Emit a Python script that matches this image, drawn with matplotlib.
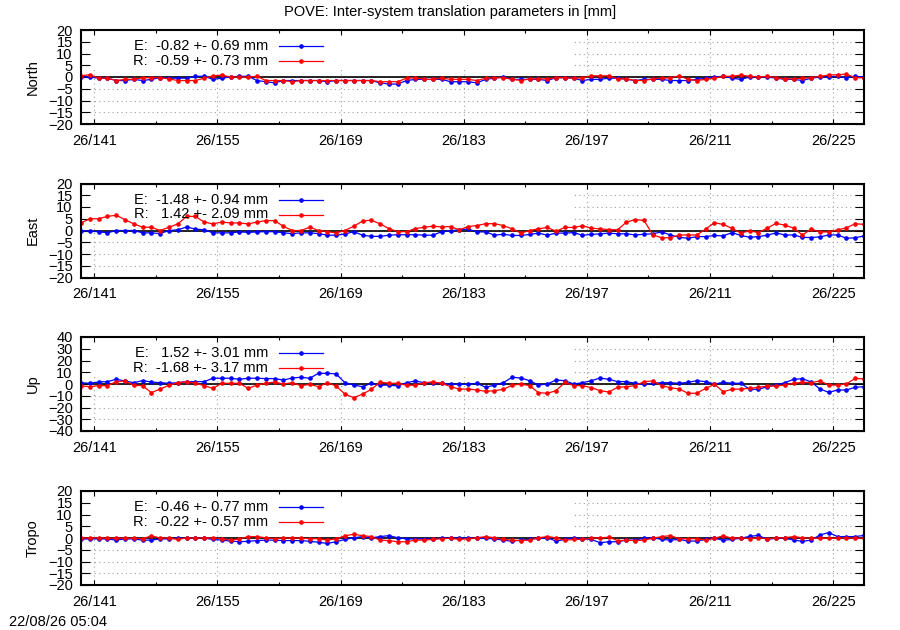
import matplotlib
matplotlib.use('Agg')
import matplotlib.pyplot as plt
from matplotlib.patches import Rectangle
from matplotlib.ticker import MultipleLocator, FixedLocator
import numpy as np

plt.rcParams['font.family'] = ['Liberation Sans', 'DejaVu Sans']

# day of year (noon epochs), 26/139.5 .. 26/228.5
days = np.arange(139.5, 229.0, 1.0)
xticks = [141, 155, 169, 183, 197, 211, 225]
xlabels = ['26/%d' % d for d in xticks]
components = ['North', 'East', 'Up', 'Tropo']
ylims = [20, 20, 40, 20]
ysteps = [5, 5, 10, 5]

north_e = [0, 0, -0.5, -0.5, -1.5, -1.5, -1, -1.5, -1, -0.3,
           -0.5, -0.5, -0.5, 0.3, 0.3, -1, -0.5, 0, 0.3, 0.3,
           -1.5, -2, -2.5, -1.5, -1.5, -1.5, -1.5, -1.5, -2, -1.5,
           -1.5, -1.5, -1.5, -1.5, -2.5, -3, -3, -1.5, -1, -1,
           -1, -1,
           -2, -2, -2, -2.5, -1, -0.5, 0, -1, -1, -1,
           -1, -1.5, -0.3, -0.3, -0.5, -1.5, -1, -1, -0.5, -0.5,
           -1, -1.5, -1, -1, -1, -1.5, -1.5, -1.5, -1, -0.5,
           0, 0.3, -0.5, -1, 0, 0, 0, -0.5, -1, -1,
           -1.5, -0.5, 0, 0, 0.3, -0.3, 0.3, 0]
north_r = [0.5, 1, -0.5, -0.5, -1.5, -1, -1, -0.3, -0.3, -0.3,
           -0.8, -1.5, -1.5, -1.5, -0.5, 0.5, 0.8, 0, 0, 0,
           0.3, -1.5, -1.5, -1.5, -2, -1.5, -1.5, -1.5, -1.5, -1.5,
           -1.5, -1.5, -1.5, -1.5, -2, -2, -2, -0.5, -0.3, -1,
           -1, -0.5,
           -1, -1, -1, -1.5, -0.5, -0.3, -0.3, -1, -1.5, -0.8,
           -0.8, -0.8, -0.3, -0.3, -0.5, -0.3, 0.5, 0.5, 0.5, -0.8,
           -0.8, -1.5, -1.5, -0.8, -0.5, -0.3, 0.5, -1, -1.5, -1,
           -0.5, 0.3, 0.3, 0.8, 0.3, 0, 0.3, -0.3, -0.8, -0.8,
           -0.5, -0.3, 0.3, 0.8, 1, 1.2, -0.3, -0.3]

east_e = [0, -0.3, -0.5, -1, 0, 0, 0, -1, -1, -1.3,
          0, 0.3, 1.5, 0.6, 0.3, -1, -1, -1, -0.6, -0.8,
          -0.6, -0.5, -0.5, -1, -1.3, -1, -1, -1.3, -2, -2,
          -1.5, -0.5, -2, -2.5, -2.5, -2, -1.8, -1.8, -1.8, -2,
          -2, -0.5,
          -0.1, 0.3, 0.6, -0.6, -0.6, -2, -1.6, -2.1, -2.1, -1.7,
          -1.1, -2, -1.1, -1.1, -0.9, -2, -1.7, -1.4, -1.1, -1.4,
          -1.4, -1.9, -1.6, -1.4, -0.6, -1.9, -2.9, -3.3, -2.6, -2.6,
          -2.1, -2.3, -0.9, -2.1, -2.9, -2.6, -2, -1, -1.9, -1.9,
          -2.9, -3, -2.7, -1.9, -1.9, -3.3, -3.1, -2.3]
east_r = [3.2, 5, 5, 6, 6.5, 4.6, 2.8, 1.4, 1.4, 0,
          1.4, 2.8, 6, 6, 3.6, 2.8, 3.6, 3.2, 3.2, 2.8,
          3.6, 4.2, 4.2, 1.8, 0, 0, 1.4, 0, -0.5, -1,
          0, 1.8, 4, 4.4, 2.8, 0.8, -0.5, -0.5, 0.8, 1.4,
          1.8, 1.5,
          1.7, 0.3, 1.7, 2.1, 2.9, 2.9, 2.1, 0.7, -1.1, 0,
          0.7, 1.3, -0.3, 1.3, 1.3, 2, 1, 0.7, 0.4, 0.3,
          3.6, 4.6, 4.3, -1.9, -3.1, -3.1, -1.9, -1.9, -1.9, 0.6,
          3.3, 2.6, 0.9, -1.1, -0.1, -0.9, 1, 3, 2.3, 1,
          -1.9, 0.6, -0.6, -0.6, 0.3, 1.1, 2.9, 2.6]

up_e = [1.1, 0.6, 1.7, 2, 4, 2.6, 1.1, 2.9, 1.7, 1.1,
        0.6, 1.1, 2, 2, 2, 4.9, 4.9, 4.9, 4, 4.9,
        4.9, 4.6, 4.6, 3.4, 5.1, 5.7, 4.9, 9.1, 9.1, 8.6,
        1.1, -0.9, -2.3, 0.6, -1.1, -0.9, -1.7, 1.1, 2.6, 1.1,
        1.1, 0.6,
        -0.3, -0.3, -0.3, 0.6, -2.8, -0.9, 1.1, 5.7, 5.1, 2.8,
        -0.9, 0, 3.4, 2.8, 0, 1.1, 2.8, 5.1, 4, 2,
        2, 0.6, -0.3, 0.6, 1.1, 1.1, 0.6, 1.4, 2.8, 2,
        0, 1.4, 0.6, 0.6, -4.5, -4.5, -2.3, -0.9, 1.1, 4,
        4.5, 1.7, -4.3, -7.1, -5.1, -5.1, -2.8, -2.3]
up_r = [-1.7, -2.3, -1.4, -1.4, 2, 2.6, -1.1, -1.4, -7.4, -4.3,
        -1.1, 1.1, 2, 0.6, -1.4, -3.7, 0.6, 0.6, 0.6, -3.7,
        -0.9, 0.6, 1.7, 0, 1.1, -1.4, -0.3, -2.3, 1.1, -1.7,
        -8.6, -11.7, -8.6, -4.6, 1.7, 0.6, 0.6, -1.1, -1.1, 1.1,
        1.7, 0.6,
        -2.3, -4.3, -4.3, -5.1, -6.2, -5.7, -4.5, -1.1, 0, -1.4,
        -7.4, -7.9, -5.7, 1.4, -1.4, -1.4, -3.1, -5.7, -6.8, -2.8,
        -2.3, -1.4, 2, 2.6, -1.4, -3.1, -4.3, -7.9, -7.9, -3.7,
        -0.3, -6.5, -4.5, -4.3, -3.7, -2.8, -1.7, -1.7, -0.9, 0.6,
        1.4, 1.1, 2.6, -0.9, -0.9, 0, 4.8, 4.3]

tropo_e = [-0.4, -0.4, -0.4, -0.4, -0.9, -0.4, -0.4, -0.9, -0.9, -0.4,
           -0.4, -0.1, -0.1, -0.1, -0.1, -0.6, -0.9, -1.3, -1.6, -1.4,
           -1.1, -0.9, -0.9, -1.1, -1.1, -1.1, -1.4, -1.8, -2.3, -1.6,
           -0.6, 0.1, 0.6, 0.1, 0.6, 1, 0.1, -0.4, -0.4, -0.4,
           -0.4, -0.1,
           0.1, -0.1, 0.1, -0.1, -0.1, -0.4, -0.9, -1.4, -0.9, -0.6,
           -0.1, 0.1, -1.3, -0.6, 0.1, -0.3, -0.6, -2, -1.6, -1.6,
           -0.9, -0.9, -0.1, 0.1, -0.6, -0.9, -0.6, -1.3, -1.3, -0.6,
           -0.1, -1, -0.6, -0.1, 0.7, 1.1, -0.6, -0.1, -0.1, -0.9,
           -1.4, -0.9, 1.3, 2.3, 0.6, 0.6, 0.6, 1.1]
tropo_r = [-0.1, 0.1, 0, -0.1, -0.1, -0.1, -0.1, -0.3, 0.9, 0,
           0, -0.6, 0, 0, 0, 0, -0.3, -0.9, -0.4, 0.6,
           0.6, 0.1, -0.3, 0, 0, 0, -0.3, -0.3, -0.9, -0.3,
           0.9, 1.6, 1, 0.6, -0.9, -1.1, -1.6, -1.6, -0.9, -0.9,
           -0.6, -0.3,
           -0.1, -0.6, -0.3, 0.1, 0.6, 0.1, -0.6, -0.9, -1.1, -0.9,
           0.1, 0.6, 0.1, -1, -0.6, -0.6, -0.1, 0.1, 0.3, -1.1,
           -0.9, -1.1, -0.9, -0.1, 0.6, 1, -0.3, -0.3, -0.3, -0.9,
           -0.1, 0.9, -0.1, 0.1, -0.3, 0.1, -0.4, 0.1, 0.1, 0.6,
           0.1, -0.1, -0.1, -0.1, -0.1, 0.1, -0.1, -0.1]

series_e = [north_e, east_e, up_e, tropo_e]
series_r = [north_r, east_r, up_r, tropo_r]
keys_e = ['E:  -0.82 +- 0.69 mm', 'E:  -1.48 +- 0.94 mm', 'E:   1.52 +- 3.01 mm', 'E:  -0.46 +- 0.77 mm']
keys_r = ['R:  -0.59 +- 0.73 mm', 'R:   1.42 +- 2.09 mm', 'R:  -1.68 +- 3.17 mm', 'R:  -0.22 +- 0.57 mm']

W, H = 900, 630
fig = plt.figure(figsize=(9, 6.3), dpi=100)

panel_tops = [30, 183.5, 337, 491]
ax_left, ax_right, ax_h = 81, 864, 94

fs = 10.5
for k in range(4):
    top = panel_tops[k]
    ax = fig.add_axes([ax_left / W, 1 - (top + ax_h) / H, (ax_right - ax_left) / W, ax_h / H])
    lim = ylims[k]
    ax.set_xlim(days[0], days[-1])
    ax.set_ylim(-lim, lim)

    ax.xaxis.set_major_locator(FixedLocator(xticks))
    ax.xaxis.set_minor_locator(FixedLocator([d + 7 for d in xticks]))
    ax.set_xticklabels(xlabels)
    ax.yaxis.set_major_locator(MultipleLocator(ysteps[k]))

    # dotted grid, hidden by the opaque key box
    for xt in xticks:
        ax.axvline(xt, color='#a0a0a0', lw=0.8, ls=(0, (1, 3)), zorder=0.3)
    for yt in np.arange(-lim + ysteps[k], lim, ysteps[k]):
        ax.axhline(yt, color='#a0a0a0', lw=0.8, ls=(0, (1, 3)), zorder=0.3)
    ax.add_patch(Rectangle((0, 0.575), 0.628, 0.425, transform=ax.transAxes,
                           facecolor='white', edgecolor='none', zorder=0.6))

    ax.axhline(0, color='black', lw=1.2, zorder=1.5)
    ax.plot(days, series_e[k], color='#0000ff', lw=0.9, marker='o', ms=2.3, zorder=2)
    ax.plot(days, series_r[k], color='#ff0000', lw=0.9, marker='o', ms=2.3, zorder=2.1)

    # key
    for row, (txt, col) in enumerate([(keys_e[k], '#0000ff'), (keys_r[k], '#ff0000')]):
        yk = 1 - (16 + 15 * row) / ax_h
        ax.text((268 - ax_left) / (ax_right - ax_left), yk, txt, transform=ax.transAxes,
                ha='right', va='center', fontsize=fs, zorder=3)
        x0 = (279 - ax_left) / (ax_right - ax_left)
        x1 = (323 - ax_left) / (ax_right - ax_left)
        ax.plot([x0, x1], [yk, yk], color=col, lw=0.9, transform=ax.transAxes, zorder=3)
        ax.plot([(x0 + x1) / 2], [yk], color=col, marker='o', ms=2.3, transform=ax.transAxes, zorder=3)

    ax.set_ylabel(components[k], fontsize=fs, labelpad=6)
    ax.tick_params(axis='y', which='major', direction='in', length=6.5, width=0.8,
                   left=True, right=True, labelsize=fs, pad=6)
    ax.tick_params(axis='x', which='major', direction='in', length=3.6, width=0.8,
                   top=True, bottom=True, labelsize=fs, pad=7)
    ax.tick_params(axis='x', which='minor', direction='in', length=2.2, width=0.8,
                   top=True, bottom=True)
    for sp in ax.spines.values():
        sp.set_linewidth(1.5)
        sp.set_zorder(4)

fig.text(0.5, 1 - 12 / H, 'POVE: Inter-system translation parameters in [mm]',
         ha='center', va='center', fontsize=fs)
fig.text(9 / W, 1 - 622 / H, '22/08/26 05:04', ha='left', va='center', fontsize=fs)

fig.savefig('out.png', dpi=100)
